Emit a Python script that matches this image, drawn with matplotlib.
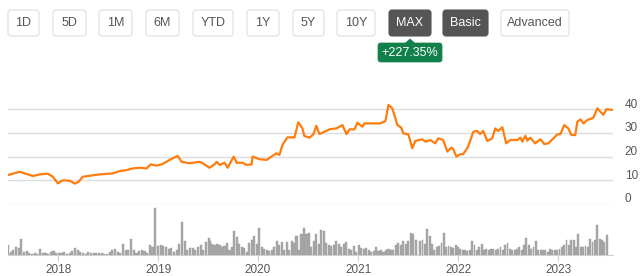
import pandas as pd
import matplotlib
matplotlib.use('Agg')
import matplotlib.pyplot as plt
import matplotlib.dates as mdates
from matplotlib.patches import FancyBboxPatch, Polygon
from matplotlib.transforms import ScaledTranslation

plt.rcParams['font.family'] = ['Liberation Sans', 'DejaVu Sans']

# price line
price_dates = [
    '2017-07-02', '2017-08-14', '2017-10-01', '2017-10-26', '2017-11-24', '2017-12-13',
    '2017-12-31', '2018-01-18', '2018-02-13', '2018-03-03', '2018-03-17', '2018-04-01',
    '2018-04-27', '2018-06-02', '2018-06-28', '2018-07-19', '2018-08-14', '2018-09-08',
    '2018-09-30', '2018-10-26', '2018-11-20', '2018-12-05', '2018-12-27', '2019-01-18',
    '2019-02-12', '2019-03-13', '2019-03-28', '2019-04-26', '2019-06-02', '2019-06-13',
    '2019-07-08', '2019-07-26', '2019-08-03', '2019-08-14', '2019-09-01', '2019-09-12',
    '2019-10-04', '2019-10-15', '2019-11-05', '2019-11-20', '2019-12-08', '2019-12-12',
    '2020-01-06', '2020-02-01', '2020-02-19', '2020-03-08', '2020-03-19', '2020-03-30',
    '2020-04-17', '2020-05-13', '2020-05-27', '2020-06-11', '2020-06-18', '2020-07-07',
    '2020-07-21', '2020-08-01', '2020-08-12', '2020-09-18', '2020-10-13', '2020-11-04',
    '2020-11-19', '2020-11-30', '2020-12-18', '2020-12-29', '2021-01-16', '2021-01-23',
    '2021-02-14', '2021-03-22', '2021-04-10', '2021-04-21', '2021-05-05', '2021-05-24',
    '2021-06-07', '2021-06-14', '2021-07-03', '2021-07-17', '2021-07-28', '2021-08-23',
    '2021-09-03', '2021-09-21', '2021-10-09', '2021-10-20', '2021-11-07', '2021-11-22',
    '2021-12-07', '2021-12-14', '2021-12-25', '2022-01-08', '2022-01-19', '2022-02-06',
    '2022-02-25', '2022-03-11', '2022-03-22', '2022-04-02', '2022-04-17', '2022-05-05',
    '2022-05-16', '2022-05-27', '2022-06-11', '2022-06-25', '2022-07-10', '2022-08-05',
    '2022-08-16', '2022-08-23', '2022-09-03', '2022-09-10', '2022-09-21', '2022-10-09',
    '2022-10-28', '2022-11-11', '2022-11-26', '2022-12-14', '2022-12-29', '2023-01-09',
    '2023-01-23', '2023-02-07', '2023-02-18', '2023-03-04', '2023-03-12', '2023-03-23',
    '2023-04-03', '2023-04-17', '2023-05-09', '2023-05-24', '2023-06-04', '2023-06-15',
    '2023-06-26', '2023-07-18',
]
price_values = [
    12.2, 13.6, 11.8, 12.5, 12.8, 11.5,
    8.7, 10.0, 9.8, 8.6, 9.4, 11.5,
    11.9, 12.5, 12.7, 12.9, 13.9, 14.3,
    15.0, 15.3, 15.0, 16.7, 16.2, 16.9,
    18.6, 20.3, 17.8, 17.2, 17.8, 17.2,
    15.3, 16.7, 17.8, 16.5, 17.4, 15.3,
    20.0, 17.4, 17.4, 16.5, 16.7, 20.0,
    18.9, 18.6, 20.0, 21.4, 20.7, 24.9,
    28.1, 28.1, 34.5, 31.9, 28.7, 28.0,
    29.4, 33.0, 29.5, 31.5, 31.9, 33.3,
    29.5, 31.5, 31.5, 34.3, 32.6, 34.0,
    34.0, 34.0, 35.0, 41.8, 40.4, 33.3,
    32.2, 29.8, 29.4, 23.5, 26.6, 27.3,
    26.3, 27.0, 25.6, 27.7, 27.0, 22.1,
    23.8, 23.1, 20.0, 21.0, 21.0, 24.2,
    30.5, 30.8, 29.5, 30.8, 26.6, 27.7,
    31.9, 30.8, 32.4, 25.6, 27.0, 27.0,
    28.0, 26.3, 28.8, 26.7, 28.0, 25.6,
    27.3, 25.3, 25.6, 27.7, 29.4, 29.5,
    33.3, 31.9, 29.1, 29.1, 34.7, 35.7,
    34.0, 35.4, 36.4, 40.4, 38.9, 37.6,
    40.0, 39.7,
]

# volume bars, three stretches of evenly spaced bars
vol_2017_2019 = [
    9.3, 2.7, 4.3, 7.7, 6.7, 16, 2.7, 3.3, 1.7, 1, 1.7, 1, 6, 1.7, 2, 1,
    2.7, 3.3, 2, 1.7, 2, 2.7, 0.3, 1.7, 3.3, 7, 5, 2.7, 1.7, 1, 2.3, 1.7,
    2, 1.7, 2, 1.7, 0.3, 1, 2.7, 4.3, 6, 2.7, 1.7, 11, 5, 4.3, 16, 4.3,
    2, 3.7, 4.3, 3.7, 1.7, 9.3, 7.7, 47, 8.3, 9.3, 8.3, 7.7, 6, 7, 2.7, 5,
    11, 33, 13.7, 4.3, 7, 6.7, 5, 7.7, 9.3, 4.3, 12.7, 17,
]
vol_2019_2021 = [
    13.7, 11, 10, 11, 10, 7.7, 8.7, 12, 4.3, 7.7, 23.7, 17.7, 11, 7.7, 7, 2.7,
    11.7, 14.3, 18.3, 11, 26.7, 7.7, 6, 4.3, 3.7, 4.3, 7.7, 13.7, 9.3, 12.7, 4.3, 12.7,
    4.3, 13.7, 11.7, 18.3, 4.3, 21, 26.7, 20.3, 21.7, 7.7, 13.7, 21, 11, 25, 23.7, 11.7,
    9.3, 8.3, 9.3, 13.7, 11, 7.7, 11, 12.7, 6, 5, 8.3, 2.7, 9.3, 7, 6, 6.7,
    4.3, 2.7, 3.7, 7.7, 3.7, 4.3, 2.7, 4.3, 6, 5, 4.3, 9.3, 11.7, 9.3, 13.7, 11,
    13.7, 21.7, 21, 15,
]
vol_2021_2023 = [
    13.7, 14.3, 11, 25.3, 18.3, 11, 4.3, 7.7, 8.3, 11.7, 22, 7.7, 8.3, 7.7, 7, 9.3,
    7.7, 6, 5, 4.3, 3.7, 4.3, 13.7, 9.3, 5, 7.7, 10.3, 4.3, 6, 5, 5.3, 6,
    4.3, 6, 7.7, 4.3, 9.3, 11.7, 6, 5, 4.3, 6, 7.7, 5, 9.3, 17, 9.3, 6,
    7.7, 13.3, 5, 5, 4.3, 5, 2.7, 6, 5, 4.3, 5, 6, 7.7, 10, 14.3, 9.3,
    14.3, 15, 7.7, 21, 7.7, 7.7, 8.3, 7.7, 16, 12.7, 14.3, 29.3, 16, 15, 12.7, 19.3,
]
vol_segments = [
    ('2017-07-02', '2019-07-05', vol_2017_2019),
    ('2019-07-08', '2021-07-30', vol_2019_2021),
    ('2021-08-15', '2023-06-27', vol_2021_2023),
]

price_ticks = [0, 10, 20, 30, 40]
year_ticks = ['2018', '2019', '2020', '2021', '2022', '2023']

range_buttons = ['1D', '5D', '1M', '6M', 'YTD', '1Y', '5Y', '10Y', 'MAX', 'Basic', 'Advanced']
active_buttons = ['MAX', 'Basic']
change_label = '+227.35%'

W, H = 640, 276
fig = plt.figure(figsize=(W / 100, H / 100), dpi=100)


def px_box(x0, y0, x1, y1):
    return [x0 / W, 1 - y1 / H, (x1 - x0) / W, (y1 - y0) / H]


xmin, xmax = pd.Timestamp('2017-07-02'), pd.Timestamp('2023-07-20')

# price panel
ax = fig.add_axes(px_box(8, 95, 613, 210))
ax.set_facecolor('none')
ax.plot(pd.to_datetime(price_dates), price_values, color='#ff7d0f', lw=1.6,
        solid_joinstyle='round')
ax.set_xlim(xmin, xmax)
ax.set_ylim((204 - 210) / 2.37, (204 - 95) / 2.37)
ax.set_yticks(price_ticks)
ax.grid(axis='y', color='#dcdcdc', lw=1.0)
ax.set_axisbelow(True)
for s in ax.spines.values():
    s.set_visible(False)
ax.tick_params(axis='x', length=0, labelbottom=False)
ax.tick_params(axis='y', length=0, labelleft=False, labelright=True, pad=8.5,
               labelsize=8.5, labelcolor='#555555')
for lab in ax.get_yticklabels():
    lab.set_horizontalalignment('left')
    lab.set_transform(lab.get_transform() + ScaledTranslation(0, 0.06, fig.dpi_scale_trans))

# volume panel
axv = fig.add_axes(px_box(8, 204, 613, 254.5))
for start, end, vols in vol_segments:
    d = pd.date_range(start, end, periods=len(vols))
    step = (d[1] - d[0]).days
    axv.bar(d, vols, width=step * 0.85, color='#a8a8a8', edgecolor='#9a9a9a', lw=0.3)
axv.set_xlim(xmin, xmax)
axv.set_ylim(0, 50.5)
axv.set_yticks([])
for s in ['top', 'left', 'right']:
    axv.spines[s].set_visible(False)
axv.spines['bottom'].set_color('#d0d0d0')
axv.set_xticks(pd.to_datetime([y + '-01-01' for y in year_ticks]))
axv.xaxis.set_major_formatter(mdates.DateFormatter('%Y'))
axv.tick_params(axis='x', length=4, color='#cccccc', labelsize=8.5,
                labelcolor='#555555', pad=3)

# buttons on top
btn_x = [(8, 39), (53, 86), (99, 132), (146, 179), (193, 233), (247, 279),
         (293, 324), (337, 375), (389, 431), (443, 488), (501, 569)]
tr = fig.dpi_scale_trans
for label, (x0, x1) in zip(range_buttons, btn_x):
    dark = label in active_buttons
    box = FancyBboxPatch(((x0) / 100, (H - 36) / 100), (x1 - x0) / 100, 26 / 100,
                         boxstyle='round,pad=0,rounding_size=0.03', transform=tr,
                         facecolor='#555555' if dark else 'white',
                         edgecolor='#555555' if dark else '#dddddd', lw=0.8)
    fig.patches.append(box)
    fig.text((x0 + x1) / 200, (H - 23) / 100, label, transform=tr, ha='center', va='center',
             fontsize=9, color='white' if dark else '#555555')

# change badge under MAX
badge = FancyBboxPatch((378 / 100, (H - 62) / 100), 64 / 100, 19 / 100,
                       boxstyle='round,pad=0,rounding_size=0.025', transform=tr,
                       facecolor='#12804a', edgecolor='#12804a', lw=0.5)
fig.patches.append(badge)
fig.patches.append(Polygon([(405 / 100, (H - 43) / 100), (415 / 100, (H - 43) / 100),
                            (410 / 100, (H - 38.5) / 100)], closed=True, transform=tr,
                           facecolor='#12804a', edgecolor='none'))
fig.text(410 / 100, (H - 52.5) / 100, change_label, transform=tr, ha='center', va='center',
         fontsize=9, color='white')

fig.savefig('out.png', dpi=100)
